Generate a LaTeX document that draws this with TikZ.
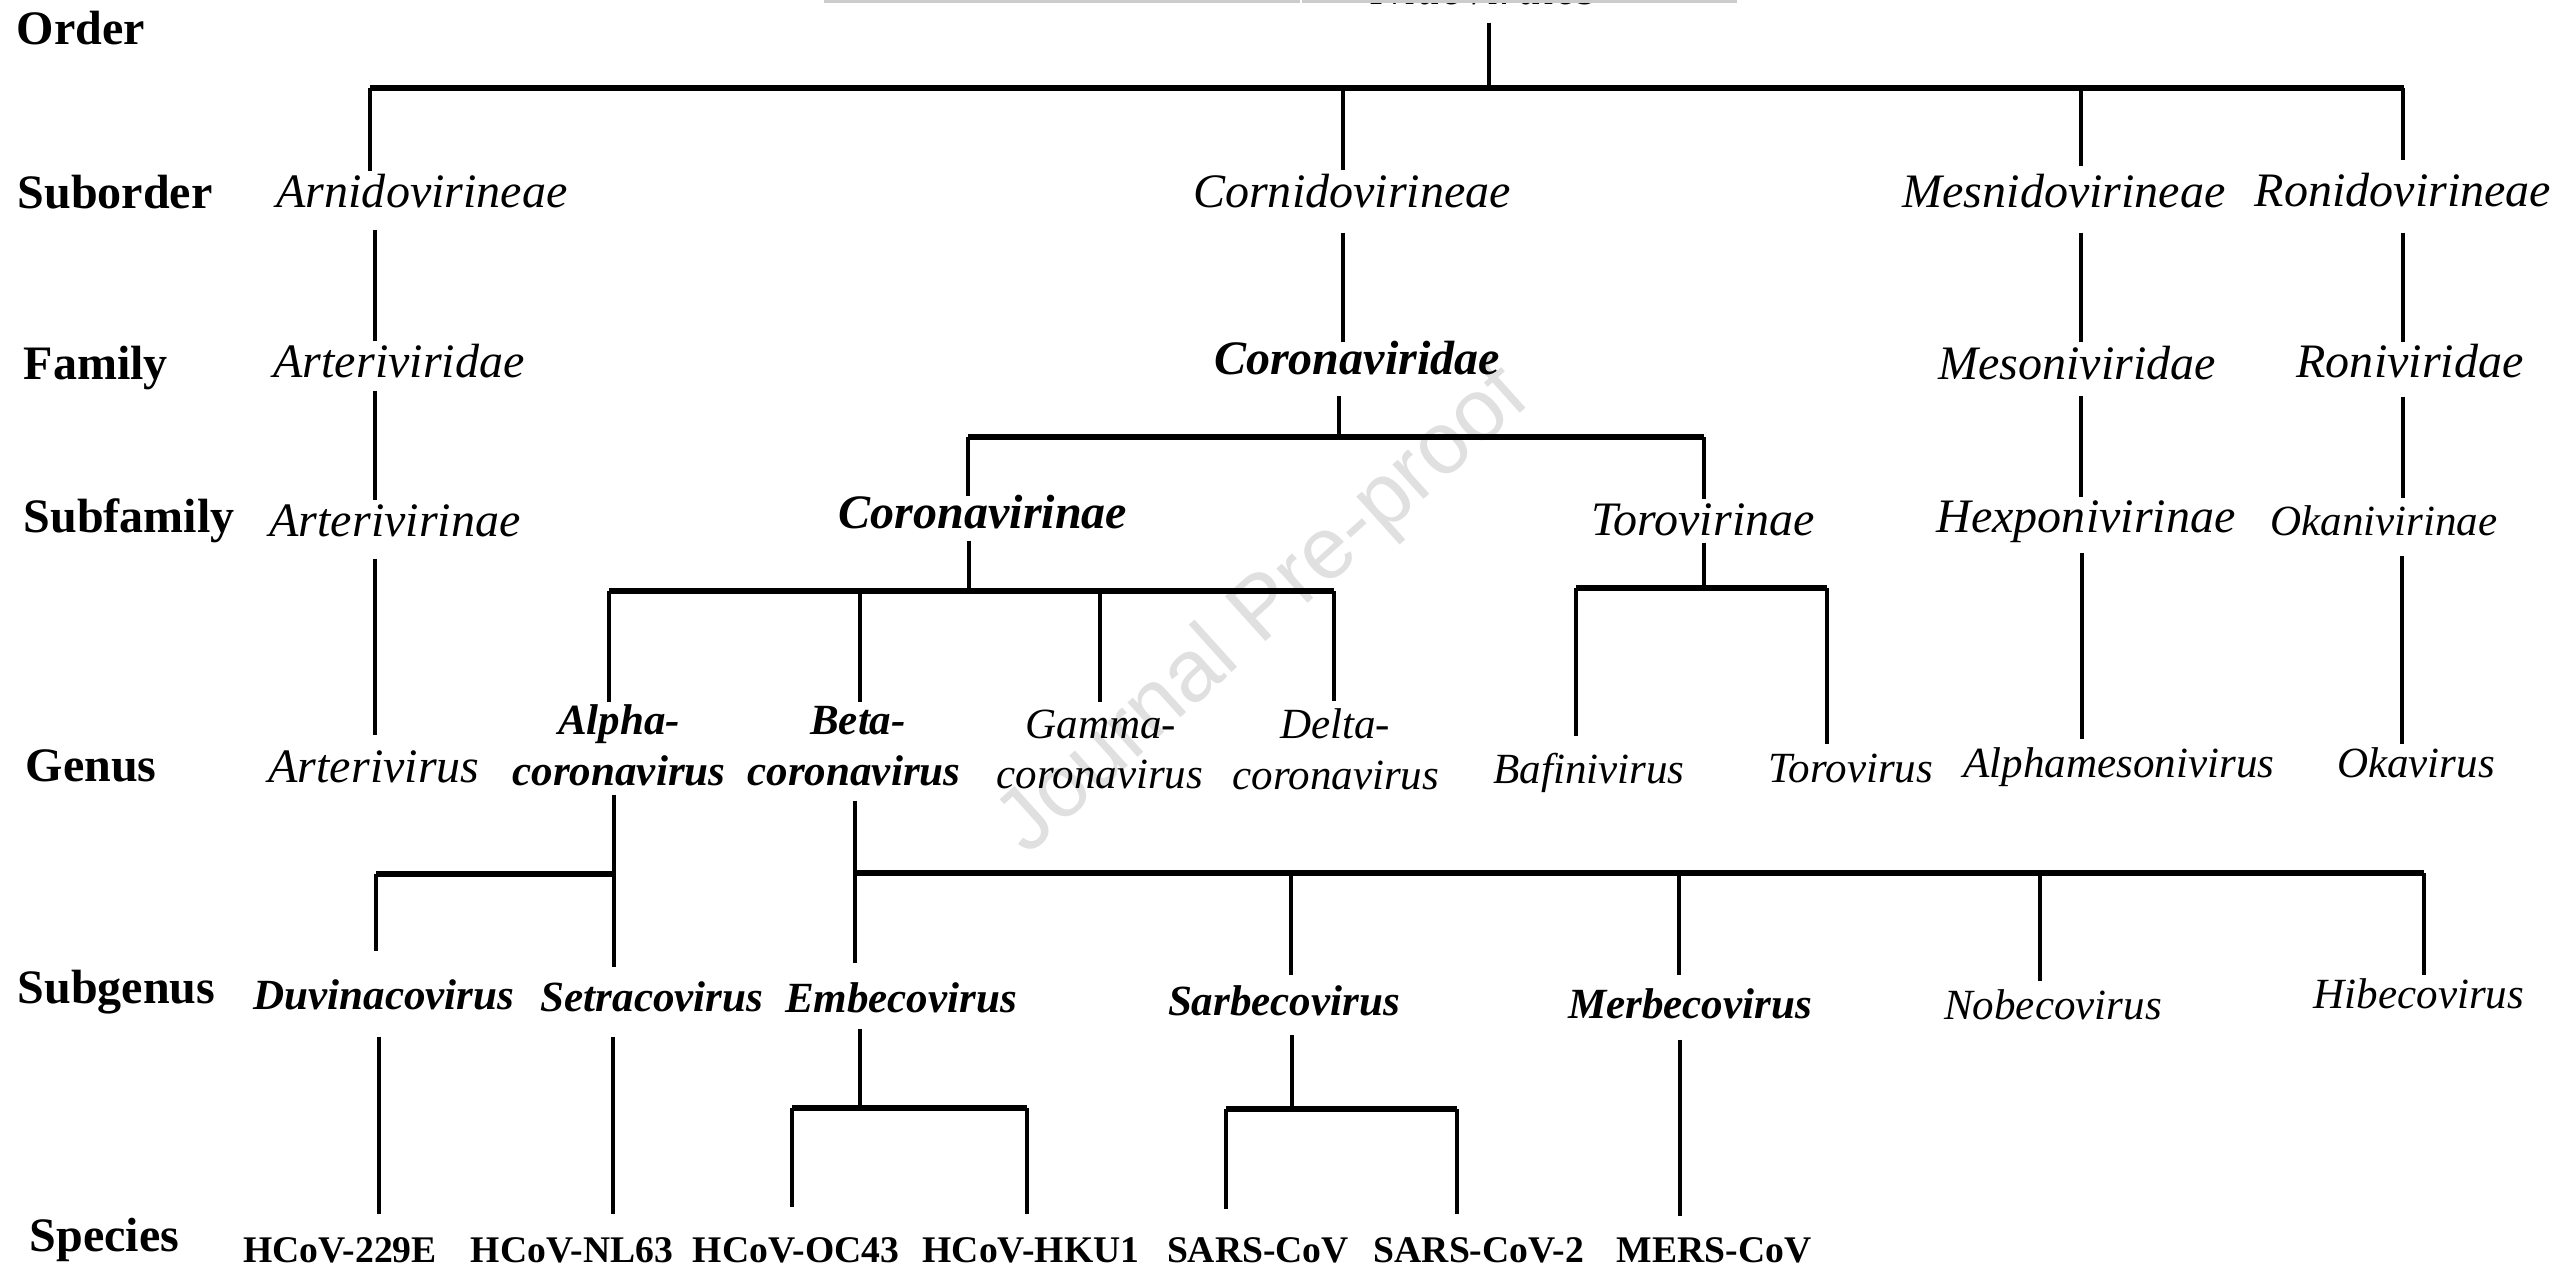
\documentclass[tikz,border=0pt]{standalone}
\usepackage{fontspec}
\setmainfont{Liberation Serif}
\newfontfamily\wmfont{Liberation Sans}
\begin{document}
\begin{tikzpicture}[x=0.01cm,y=-0.01cm,
  lbl/.style={anchor=base, inner xsep=0pt, inner ysep=0pt, font=\fontsize{13.66}{16}\selectfont\itshape},
  lblb/.style={lbl, font=\fontsize{13.66}{16}\selectfont\bfseries\itshape},
  gen/.style={lbl, font=\fontsize{12.24}{14}\selectfont\itshape},
  genb/.style={lbl, font=\fontsize{12.24}{14}\selectfont\bfseries\itshape},
  spec/.style={lbl, font=\fontsize{10.7}{12}\selectfont\bfseries},
  rank/.style={anchor=base west, inner sep=0pt, font=\fontsize{13.66}{16}\selectfont\bfseries},
  gap/.style 2 args={text height=#1, text depth=#2},
  vl/.style={line width=1pt},
  hb/.style={line width=1.45pt},
  wmark/.style={rotate=42, text=black!12, font=\wmfont\fontsize{25}{30}\selectfont}
]
\useasboundingbox (0,0) rectangle (2557,1267);
% watermark
\node[wmark] (wm) at (1265,612) {Journal Pre-proof};

% top (cut off)
\node[lbl, text depth=0.17cm] (nido) at (1484,5) {Nidovirales};
\fill[black!20] (824,0) rectangle (1737,3);
\fill[white] (1300,0) rectangle (1302,3);

% rank labels
\node[rank] (rOrder) at (16,45) {Order};
\node[rank] (rSuborder) at (17,209) {Suborder};
\node[rank] (rFamily) at (23,380) {Family};
\node[rank] (rSubfamily) at (23,532) {Subfamily};
\node[rank] (rGenus) at (25,781) {Genus};
\node[rank] (rSubgenus) at (17,1003) {Subgenus};
\node[rank] (rSpecies) at (29,1251) {Species};

% suborder
\node[lbl, gap={0.36cm}{0.21cm}] (arni) at (422,208) {Arnidovirineae};
\node[lbl, gap={0.37cm}{0.24cm}] (corni) at (1352,208) {Cornidovirineae};
\node[lbl, gap={0.41cm}{0.24cm}] (mesn) at (2064,208) {Mesnidovirineae};
\node[lbl, gap={0.46cm}{0.25cm}] (ronid) at (2403,207) {Ronidovirineae};

% family
\node[lbl, gap={0.36cm}{0.12cm}] (arteriviridae) at (399,378) {Arteriviridae};
\node[lblb, gap={0.32cm}{0.20cm}] (coronaviridae) at (1357,375) {Coronaviridae};
\node[lbl, gap={0.37cm}{0.15cm}] (mesoniviridae) at (2077,380) {Mesoniviridae};
\node[lbl, gap={0.35cm}{0.18cm}] (roniviridae) at (2410,378) {Roniviridae};

% subfamily
\node[lbl, gap={0.36cm}{0.21cm}] (arterivirinae) at (395,537) {Arterivirinae};
\node[lblb, gap={0.31cm}{0.12cm}] (coronavirinae) at (983,528) {Coronavirinae};
\node[lbl, gap={0.35cm}{0.07cm}] (torovirinae) at (1703,535) {Torovirinae};
\node[lbl, gap={0.34cm}{0.20cm}] (hexpo) at (2086,532) {Hexponivirinae};
\node[gen, gap={0.36cm}{0.20cm}] (okani) at (2384,535) {Okanivirinae};

% genus
\node[lbl, text height=0.46cm] (arterivirus) at (374,782) {Arterivirus};
\node[genb, text height=0.32cm] (alphaT) at (619,735) {Alpha-};
\node[genb, text depth=0.09cm] (alpha) at (619,785) {coronavirus};
\node[genb, text height=0.32cm] (betaT) at (858,735) {Beta-};
\node[genb, text depth=0.15cm] (beta) at (854,785) {coronavirus};
\node[gen, text height=0.35cm] (gammaT) at (1101,738) {Gamma-};
\node[gen] (gamma) at (1100,788) {coronavirus};
\node[gen, text height=0.36cm] (deltaT) at (1335,738) {Delta-};
\node[gen] (delta) at (1336,789) {coronavirus};
\node[gen, text height=0.46cm] (bafini) at (1589,783) {Bafinivirus};
\node[gen, text height=0.37cm] (torovirus) at (1851,782) {Torovirus};
\node[gen, text height=0.37cm] (alphameso) at (2119,777) {Alphamesonivirus};
\node[gen, text height=0.32cm] (okavirus) at (2416,777) {Okavirus};

% subgenus
\node[genb, gap={0.57cm}{0.27cm}] (duvina) at (384,1009) {Duvinacovirus};
\node[genb, gap={0.43cm}{0.25cm}] (setra) at (652,1011) {Setracovirus};
\node[genb, gap={0.48cm}{0.16cm}] (embeco) at (901,1012) {Embecovirus};
\node[genb, gap={0.39cm}{0.19cm}] (sarbeco) at (1284,1015) {Sarbecovirus};
\node[genb, gap={0.42cm}{0.21cm}] (merbeco) at (1690,1018) {Merbecovirus};
\node[gen, text height=0.37cm] (nobeco) at (2053,1019) {Nobecovirus};
\node[gen, text height=0.32cm] (hibeco) at (2419,1008) {Hibecovirus};

% species
\node[spec, text height=0.47cm] (hcov229e) at (340,1262) {HCoV-229E};
\node[spec, text height=0.47cm] (hcovnl63) at (572,1262) {HCoV-NL63};
\node[spec, text height=0.54cm] (hcovoc43) at (796,1262) {HCoV-OC43};
\node[spec, text height=0.47cm] (hcovhku1) at (1031,1262) {HCoV-HKU1};
\node[spec, text height=0.52cm] (sarscov) at (1258,1262) {SARS-CoV};
\node[spec, text height=0.47cm] (sarscov2) at (1479,1262) {SARS-CoV-2};
\node[spec, text height=0.45cm] (merscov) at (1714,1262) {MERS-CoV};

% order -> suborder
\draw[vl] (nido.south -| 1489,0) -- (1489,88);
\draw[hb] (370,88) -- (2404,88);
\draw[vl] (370,88) -- (arni.north -| 370,0);
\draw[vl] (1343,88) -- (corni.north -| 1343,0);
\draw[vl] (2081,88) -- (mesn.north -| 2081,0);
\draw[vl] (2403,88) -- (ronid.north -| 2403,0);
% suborder -> family
\draw[vl] (arni.south -| 375,0) -- (arteriviridae.north -| 375,0);
\draw[vl] (corni.south -| 1343,0) -- (coronaviridae.north -| 1343,0);
\draw[vl] (mesn.south -| 2081,0) -- (mesoniviridae.north -| 2081,0);
\draw[vl] (ronid.south -| 2403,0) -- (roniviridae.north -| 2403,0);
% family -> subfamily
\draw[vl] (arteriviridae.south -| 375,0) -- (arterivirinae.north -| 375,0);
\draw[vl] (coronaviridae.south -| 1339,0) -- (1339,437);
\draw[hb] (968,437) -- (1704,437);
\draw[vl] (968,437) -- (coronavirinae.north -| 968,0);
\draw[vl] (1704,437) -- (torovirinae.north -| 1704,0);
\draw[vl] (mesoniviridae.south -| 2081,0) -- (hexpo.north -| 2081,0);
\draw[vl] (roniviridae.south -| 2403,0) -- (okani.north -| 2403,0);
% subfamily -> genus
\draw[vl] (arterivirinae.south -| 375,0) -- (arterivirus.north -| 375,0);
\draw[vl] (coronavirinae.south -| 969,0) -- (969,591);
\draw[hb] (609,591) -- (1334,591);
\draw[vl] (609,591) -- (alphaT.north -| 609,0);
\draw[vl] (860,591) -- (betaT.north -| 860,0);
\draw[vl] (1100,591) -- (gammaT.north -| 1100,0);
\draw[vl] (1334,591) -- (deltaT.north -| 1334,0);
\draw[vl] (torovirinae.south -| 1704,0) -- (1704,588);
\draw[hb] (1576,588) -- (1827,588);
\draw[vl] (1576,588) -- (bafini.north -| 1576,0);
\draw[vl] (1827,588) -- (torovirus.north -| 1827,0);
\draw[vl] (hexpo.south -| 2082,0) -- (alphameso.north -| 2082,0);
\draw[vl] (okani.south -| 2402,0) -- (okavirus.north -| 2402,0);
% genus -> subgenus
\draw[vl] (alpha.south -| 614,0) -- (setra.north -| 614,0);
\draw[hb] (376,874) -- (614,874);
\draw[vl] (376,874) -- (duvina.north -| 376,0);
\draw[vl] (beta.south -| 855,0) -- (embeco.north -| 855,0);
\draw[hb] (855,873) -- (2424,873);
\draw[vl] (1291,873) -- (sarbeco.north -| 1291,0);
\draw[vl] (1679,873) -- (merbeco.north -| 1679,0);
\draw[vl] (2040,873) -- (nobeco.north -| 2040,0);
\draw[vl] (2424,873) -- (hibeco.north -| 2424,0);
% subgenus -> species
\draw[vl] (duvina.south -| 379,0) -- (hcov229e.north -| 379,0);
\draw[vl] (setra.south -| 613,0) -- (hcovnl63.north -| 613,0);
\draw[vl] (embeco.south -| 860,0) -- (860,1108);
\draw[hb] (792,1108) -- (1027,1108);
\draw[vl] (792,1108) -- (hcovoc43.north -| 792,0);
\draw[vl] (1027,1108) -- (hcovhku1.north -| 1027,0);
\draw[vl] (sarbeco.south -| 1292,0) -- (1292,1109);
\draw[hb] (1226,1109) -- (1457,1109);
\draw[vl] (1226,1109) -- (sarscov.north -| 1226,0);
\draw[vl] (1457,1109) -- (sarscov2.north -| 1457,0);
\draw[vl] (merbeco.south -| 1680,0) -- (merscov.north -| 1680,0);
\end{tikzpicture}
\end{document}
